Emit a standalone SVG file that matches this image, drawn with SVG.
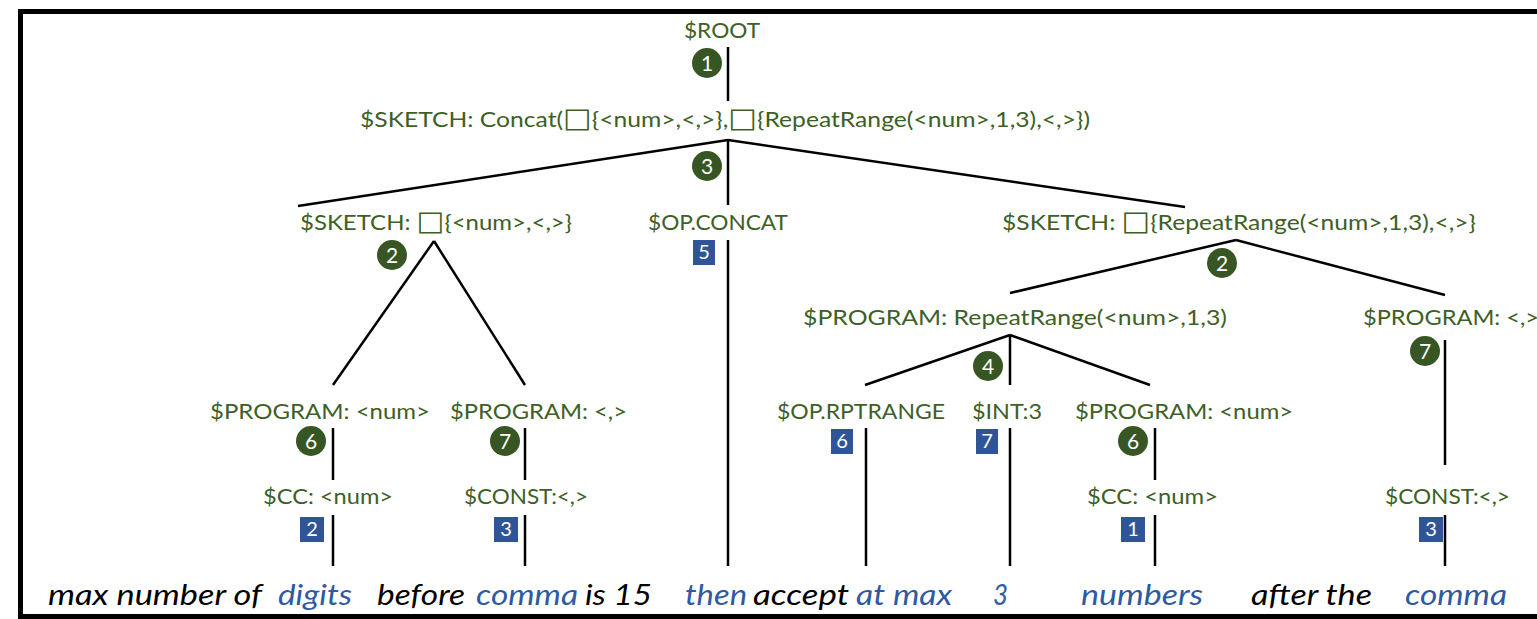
<svg xmlns="http://www.w3.org/2000/svg" width="1537" height="619" viewBox="0 0 1537 619">
<defs>
<style>
.lbl{fill:#3e6026;font-family:Lato,"Liberation Sans",sans-serif;font-size:22px}
.sq{font-family:"DejaVu Sans",sans-serif;font-size:27px;font-weight:normal}
.c{fill:#375623}
.ct{fill:#fff;font-family:Lato,"Liberation Sans",sans-serif;font-size:21px;text-anchor:middle}
.b{fill:#2f5597}
.bt{fill:#fff;font-family:Lato,"Liberation Sans",sans-serif;font-size:20px;text-anchor:middle}
.e{stroke:#000;stroke-width:2.5;fill:none}
.w{font-family:Lato,"Liberation Sans",sans-serif;font-size:29px;font-style:italic}
.k{fill:#000}
.u{fill:#2e5aa3}
</style>
</defs>
<rect width="1537" height="619" fill="#fff"/>
<path d="M1537,11.5 H20.5 V616.5 H1537" fill="none" stroke="#000" stroke-width="5"/>
<g id="connectors">
<line class="e" x1="728" y1="47" x2="728" y2="101"/>
<line class="e" x1="728" y1="140" x2="298" y2="206"/>
<line class="e" x1="728" y1="140" x2="1185" y2="207"/>
<line class="e" x1="728" y1="140" x2="728" y2="205"/>
<line class="e" x1="434" y1="241" x2="333" y2="385"/>
<line class="e" x1="434" y1="241" x2="525" y2="385"/>
<line class="e" x1="728" y1="240" x2="728" y2="566"/>
<line class="e" x1="1236" y1="240" x2="1010" y2="293"/>
<line class="e" x1="1236" y1="240" x2="1445" y2="295"/>
<line class="e" x1="1445" y1="340" x2="1445" y2="465"/>
<line class="e" x1="1010" y1="335" x2="865" y2="385"/>
<line class="e" x1="1010" y1="335" x2="1150" y2="385"/>
<line class="e" x1="1010" y1="335" x2="1010" y2="385"/>
<line class="e" x1="333" y1="428" x2="333" y2="480"/>
<line class="e" x1="525" y1="428" x2="525" y2="480"/>
<line class="e" x1="866" y1="428" x2="866" y2="566"/>
<line class="e" x1="1010" y1="428" x2="1010" y2="566"/>
<line class="e" x1="1155" y1="428" x2="1155" y2="480"/>
<line class="e" x1="333" y1="515" x2="333" y2="566"/>
<line class="e" x1="525" y1="515" x2="525" y2="566"/>
<line class="e" x1="1155" y1="515" x2="1155" y2="566"/>
<line class="e" x1="1445" y1="515" x2="1445" y2="566"/>
</g>
<g id="n-root"><text class="lbl" x="684" y="38" textLength="76" lengthAdjust="spacingAndGlyphs">$ROOT</text></g>
<g id="s1"><circle class="c" cx="707" cy="63" r="15"/><text class="ct" x="707" y="71">1</text></g>
<g id="n-sketch"><text class="lbl" x="360" y="127" textLength="730" lengthAdjust="spacingAndGlyphs">$SKETCH: Concat(<tspan class="sq">□</tspan>{&lt;num&gt;,&lt;,&gt;},<tspan class="sq">□</tspan>{RepeatRange(&lt;num&gt;,1,3),&lt;,&gt;})</text></g>
<g id="s3"><circle class="c" cx="707" cy="166" r="15"/><text class="ct" x="707" y="174">3</text></g>
<g id="n-sketch-left"><text class="lbl" x="300" y="230" textLength="272" lengthAdjust="spacingAndGlyphs">$SKETCH: <tspan class="sq">□</tspan>{&lt;num&gt;,&lt;,&gt;}</text></g>
<g id="s2a"><circle class="c" cx="392" cy="255" r="15"/><text class="ct" x="392" y="263">2</text></g>
<g id="n-opconcat"><text class="lbl" x="648" y="230" textLength="140" lengthAdjust="spacingAndGlyphs">$OP.CONCAT</text></g>
<g id="b5"><rect class="b" x="693" y="240" width="22" height="25"/><text class="bt" x="704" y="259">5</text></g>
<g id="n-sketch-right"><text class="lbl" x="1002" y="230" textLength="474" lengthAdjust="spacingAndGlyphs">$SKETCH: <tspan class="sq">□</tspan>{RepeatRange(&lt;num&gt;,1,3),&lt;,&gt;}</text></g>
<g id="s2b"><circle class="c" cx="1222" cy="263" r="15"/><text class="ct" x="1222" y="271">2</text></g>
<g id="n-prog-rr"><text class="lbl" x="803" y="325" textLength="424" lengthAdjust="spacingAndGlyphs">$PROGRAM: RepeatRange(&lt;num&gt;,1,3)</text></g>
<g id="s4"><circle class="c" cx="988" cy="366" r="15"/><text class="ct" x="988" y="374">4</text></g>
<g id="n-prog-comma-r"><text class="lbl" x="1363" y="325" textLength="176" lengthAdjust="spacingAndGlyphs">$PROGRAM: &lt;,&gt;</text></g>
<g id="s7c"><circle class="c" cx="1425" cy="351" r="15"/><text class="ct" x="1425" y="359">7</text></g>
<g id="n-prog-num-l"><text class="lbl" x="210" y="419" textLength="220" lengthAdjust="spacingAndGlyphs">$PROGRAM: &lt;num&gt;</text></g>
<g id="s6a"><circle class="c" cx="311" cy="441" r="15"/><text class="ct" x="311" y="449">6</text></g>
<g id="n-prog-comma-l"><text class="lbl" x="450" y="419" textLength="177" lengthAdjust="spacingAndGlyphs">$PROGRAM: &lt;,&gt;</text></g>
<g id="s7a"><circle class="c" cx="505" cy="441" r="15"/><text class="ct" x="505" y="449">7</text></g>
<g id="n-oprpt"><text class="lbl" x="777" y="419" textLength="168" lengthAdjust="spacingAndGlyphs">$OP.RPTRANGE</text></g>
<g id="b6"><rect class="b" x="831" y="429" width="22" height="25"/><text class="bt" x="842" y="448">6</text></g>
<g id="n-int"><text class="lbl" x="972" y="419" textLength="70" lengthAdjust="spacingAndGlyphs">$INT:3</text></g>
<g id="b7"><rect class="b" x="976" y="429" width="22" height="25"/><text class="bt" x="987" y="448">7</text></g>
<g id="n-prog-num-r"><text class="lbl" x="1075" y="419" textLength="218" lengthAdjust="spacingAndGlyphs">$PROGRAM: &lt;num&gt;</text></g>
<g id="s6b"><circle class="c" cx="1133" cy="441" r="15"/><text class="ct" x="1133" y="449">6</text></g>
<g id="n-cc-l"><text class="lbl" x="263" y="504" textLength="130" lengthAdjust="spacingAndGlyphs">$CC: &lt;num&gt;</text></g>
<g id="b2"><rect class="b" x="300" y="517" width="24" height="25"/><text class="bt" x="312" y="536">2</text></g>
<g id="n-const-l"><text class="lbl" x="464" y="504" textLength="124" lengthAdjust="spacingAndGlyphs">$CONST:&lt;,&gt;</text></g>
<g id="b3a"><rect class="b" x="494" y="517" width="24" height="25"/><text class="bt" x="506" y="536">3</text></g>
<g id="n-cc-r"><text class="lbl" x="1087" y="504" textLength="131" lengthAdjust="spacingAndGlyphs">$CC: &lt;num&gt;</text></g>
<g id="b1"><rect class="b" x="1121" y="517" width="24" height="25"/><text class="bt" x="1133" y="536">1</text></g>
<g id="n-const-r"><text class="lbl" x="1385" y="504" textLength="125" lengthAdjust="spacingAndGlyphs">$CONST:&lt;,&gt;</text></g>
<g id="b3b"><rect class="b" x="1419" y="517" width="24" height="25"/><text class="bt" x="1431" y="536">3</text></g>
<g id="sentence">
<text class="w k" x="48" y="605" textLength="214" lengthAdjust="spacingAndGlyphs">max number of</text>
<text class="w u" x="278" y="605" textLength="74" lengthAdjust="spacingAndGlyphs">digits</text>
<text class="w k" x="377" y="605" textLength="88" lengthAdjust="spacingAndGlyphs">before</text>
<text class="w u" x="476" y="605" textLength="102" lengthAdjust="spacingAndGlyphs">comma</text>
<text class="w k" x="585" y="605" textLength="67" lengthAdjust="spacingAndGlyphs">is 15</text>
<text class="w u" x="685" y="605" textLength="62" lengthAdjust="spacingAndGlyphs">then</text>
<text class="w k" x="753" y="605" textLength="96" lengthAdjust="spacingAndGlyphs">accept</text>
<text class="w u" x="856" y="605" textLength="96" lengthAdjust="spacingAndGlyphs">at max</text>
<text class="w u" x="993" y="605" textLength="15" lengthAdjust="spacingAndGlyphs">3</text>
<text class="w u" x="1081" y="605" textLength="122" lengthAdjust="spacingAndGlyphs">numbers</text>
<text class="w k" x="1251" y="605" textLength="121" lengthAdjust="spacingAndGlyphs">after the</text>
<text class="w u" x="1405" y="605" textLength="102" lengthAdjust="spacingAndGlyphs">comma</text>
</g>
</svg>
